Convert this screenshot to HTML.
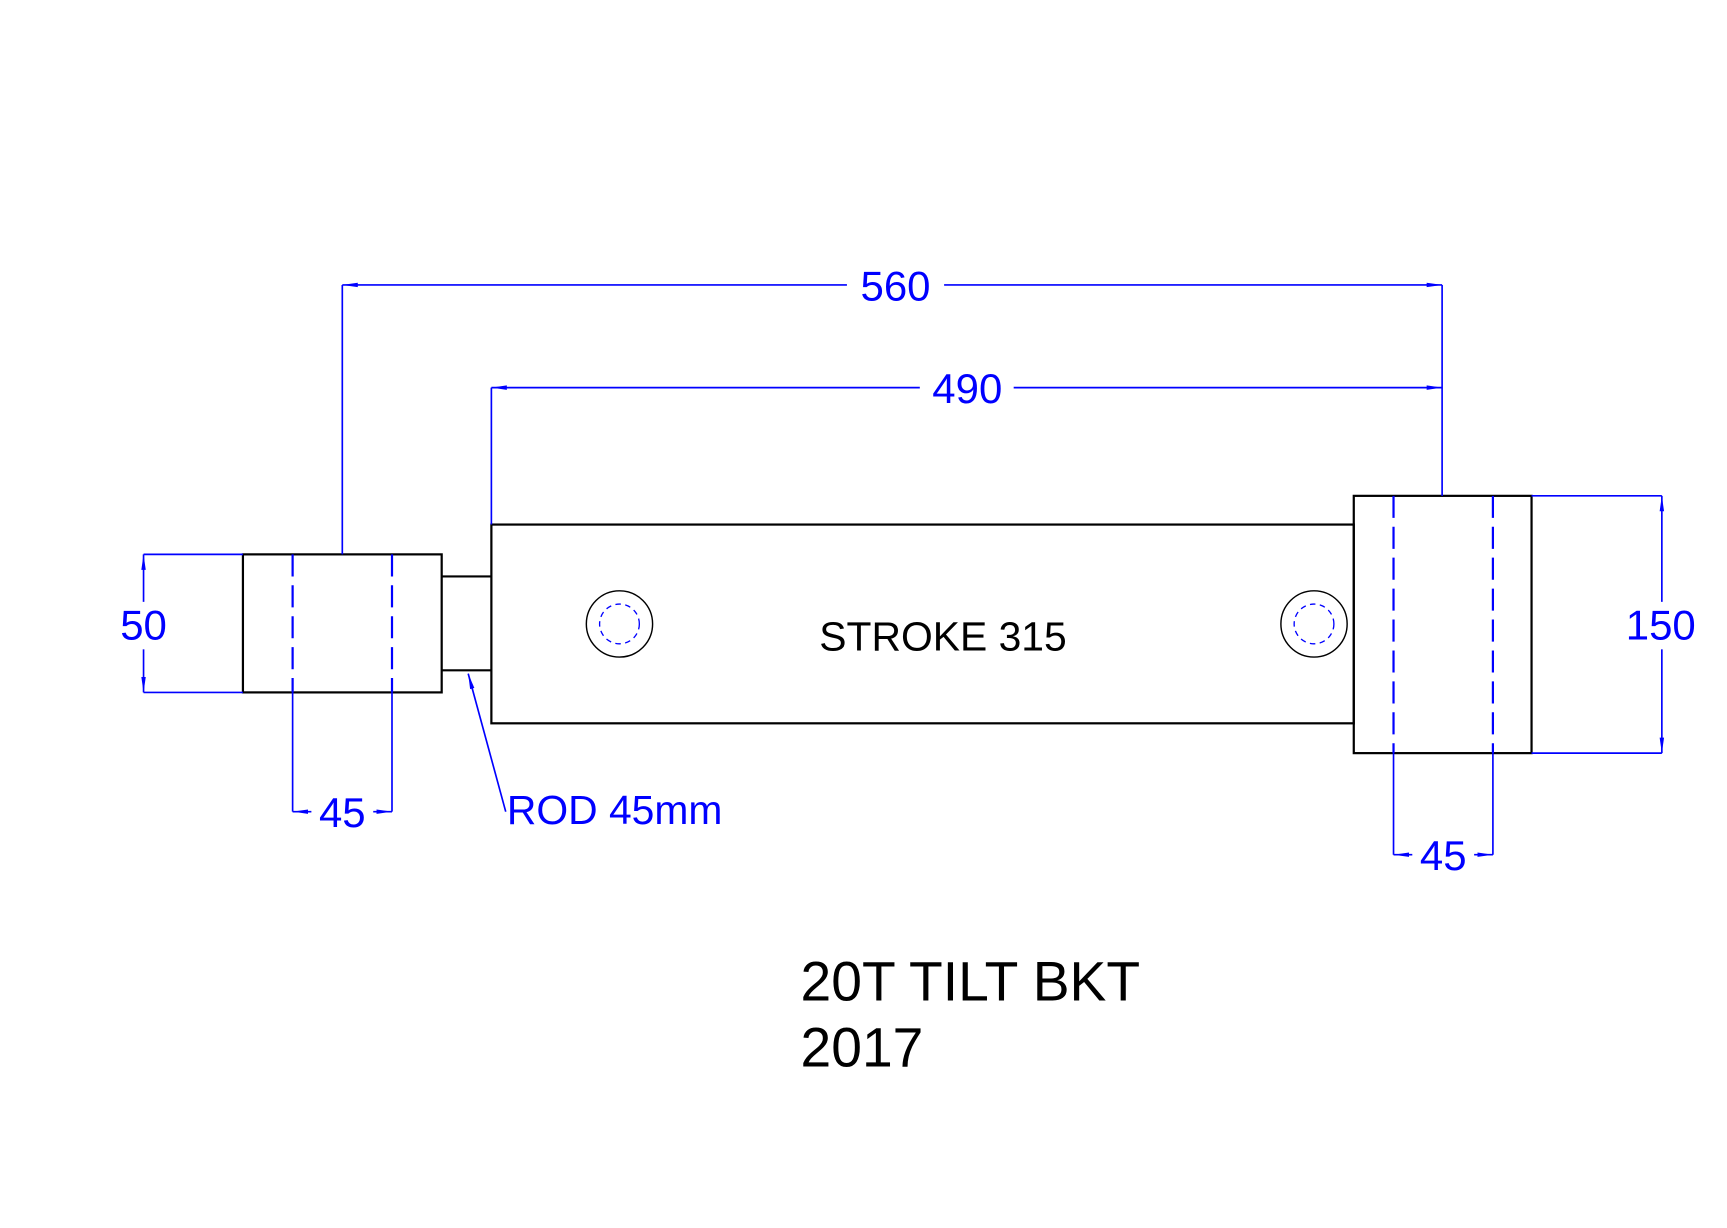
<!DOCTYPE html>
<html><head><meta charset="utf-8"><style>html,body{margin:0;padding:0;background:#fff}svg{display:block}</style></head>
<body>
<svg width="1727" height="1228" viewBox="0 0 1564 1112" xmlns="http://www.w3.org/2000/svg">
<defs>
<marker id="a" viewBox="0 0 14 4" refX="14" refY="2" markerWidth="14" markerHeight="5" orient="auto" markerUnits="userSpaceOnUse"><path d="M14,2 L0,0 L0,4 Z" fill="#0000ff"/></marker>
</defs>
<rect width="1564" height="1112" fill="#fff"/>
<g fill="none" stroke="#000" stroke-width="2">
<rect x="220" y="502" width="180" height="125"/>
<path d="M400 522 H445 M400 607 H445"/>
<rect x="445" y="475" width="781" height="180"/>
<rect x="1226" y="449" width="161" height="233"/>
<circle cx="561" cy="565" r="30" stroke-width="1.3"/>
<circle cx="1190" cy="565" r="30" stroke-width="1.3"/>
</g>
<g fill="none" stroke="#0000ff" stroke-width="1.5">
<path d="M265 502 V627 M355 502 V627 M1262 449 V682 M1352 449 V682" stroke-dasharray="20,8" stroke-width="2"/>
<circle cx="561" cy="565" r="18" stroke-dasharray="5,4" stroke-width="1.2"/>
<circle cx="1190" cy="565" r="18" stroke-dasharray="5,4" stroke-width="1.2"/>
<path d="M310 258 V502 M1306 258 V449 M445 351 V475 M130 502 H220 M130 627 H220 M1387 449 H1505 M1387 682 H1505 M265 627 V735 M355 627 V735 M1262 682 V774 M1352 682 V774"/>
<path d="M767 258 H310" marker-end="url(#a)"/>
<path d="M855 258 H1306" marker-end="url(#a)"/>
<path d="M833 351 H445" marker-end="url(#a)"/>
<path d="M918 351 H1306" marker-end="url(#a)"/>
<path d="M130 545 V502" marker-end="url(#a)"/>
<path d="M130 588 V627" marker-end="url(#a)"/>
<path d="M1505 545 V449" marker-end="url(#a)"/>
<path d="M1505 588 V682" marker-end="url(#a)"/>
<path d="M282 735 H265" marker-end="url(#a)"/>
<path d="M338 735 H355" marker-end="url(#a)"/>
<path d="M1279 774 H1262" marker-end="url(#a)"/>
<path d="M1335 774 H1352" marker-end="url(#a)"/>
<path d="M458 735 L424 610" marker-end="url(#a)"/>
</g>
<g fill="#0000ff" font-family="Liberation Sans, sans-serif" font-size="38" text-anchor="middle" font-weight="300">
<text x="811" y="272">560</text>
<text x="876" y="365">490</text>
<text x="130" y="579">50</text>
<text x="1504" y="579">150</text>
<text x="310" y="749">45</text>
<text x="1307" y="788">45</text>
</g>
<text x="459" y="746" fill="#0000ff" font-family="Liberation Sans, sans-serif" font-size="37">ROD 45mm</text>
<text x="854" y="589" fill="#000" font-family="Liberation Sans, sans-serif" font-size="37" text-anchor="middle">STROKE 315</text>
<text x="725" y="906" fill="#000" font-family="Liberation Sans, sans-serif" font-size="50">20T TILT BKT</text>
<text x="725" y="966" fill="#000" font-family="Liberation Sans, sans-serif" font-size="50">2017</text>
</svg>
</body></html>
